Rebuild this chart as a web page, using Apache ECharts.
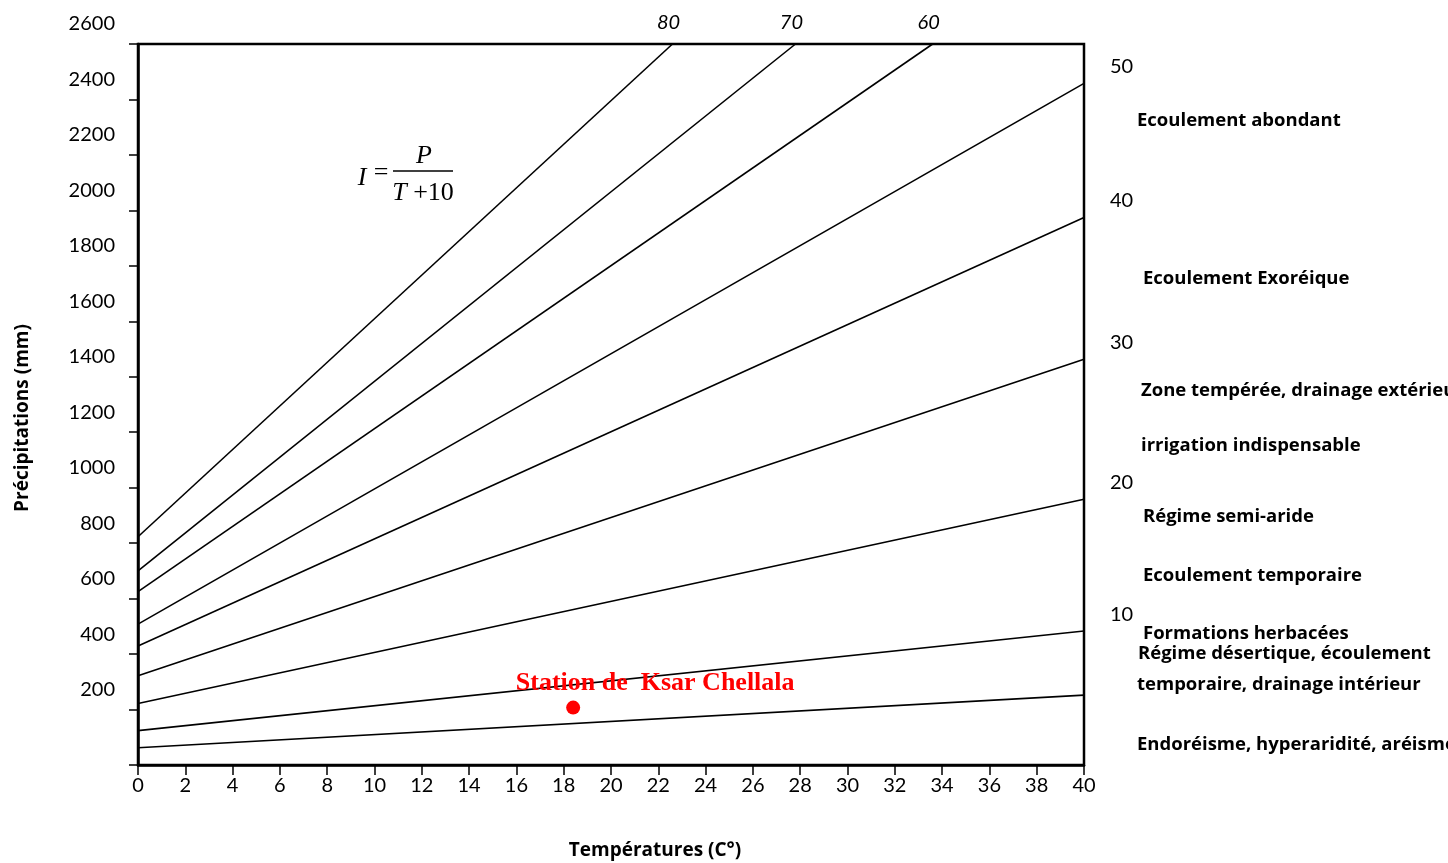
<!DOCTYPE html>
<html>
<head>
<meta charset="utf-8">
<script src="https://cdn.jsdelivr.net/npm/echarts@6/dist/echarts.min.js"></script>
<style>
html,body{margin:0;padding:0;background:#fff;}
#chart{width:1448px;height:863px;}
</style>
</head>
<body>
<div id="chart"></div>
<script>
// Index lines I = P/(T+10): start at T=0, end point (T, P)
const indexNames = ['80', '70', '60', '50', '40', '30', '20', '10', '5'];
const startP     = [823, 700, 625, 508, 429, 322, 222, 124, 62];
const endT       = [22.6, 27.8, 33.6, 40, 40, 40, 40, 40, 40];
const endP       = [2600, 2600, 2600, 2458, 1974, 1463, 958, 483, 252];
const topLabelled   = ['80', '70', '60'];
const rightLabelled = ['50', '40', '30', '20', '10'];

// Station
const stationName = 'Station de  Ksar Chellala';
const stationT = 18.4;
const stationP = 207;

// Axes
const xTicks = {min: 0, max: 40, step: 2};
const yTicks = {min: 0, max: 2600, step: 200};

// Zone descriptions (right side)
const zoneTexts = [
  'Ecoulement abondant',
  'Ecoulement Exoréique',
  'Zone tempérée, drainage extérieur',
  'irrigation indispensable',
  'Régime semi-aride',
  'Ecoulement temporaire',
  'Formations herbacées',
  'Régime désertique, écoulement',
  'temporaire, drainage intérieur',
  'Endoréisme, hyperaridité, aréisme'
];
const zoneX = [1137, 1143, 1141, 1141, 1143, 1143, 1143, 1138, 1137, 1137];
const zoneY = [124, 282, 394, 449, 520, 579, 637, 657, 688, 748];

const FONT = 'Lato';
const BOLD = 'Open Sans';
const SERIF = 'Liberation Serif';

const series = indexNames.map((name, i) => {
  let endLabel = {show: false};
  if (topLabelled.includes(name)) {
    endLabel = {show: true, position: 'top', distance: 11, offset: [-4, 0],
      formatter: name, fontFamily: FONT, fontStyle: 'italic', fontSize: 20, color: '#000'};
  } else if (rightLabelled.includes(name)) {
    endLabel = {show: true, position: 'right', distance: 26, offset: [0, -17],
      formatter: name, fontFamily: FONT, fontSize: 20, color: '#000'};
  }
  return {
    type: 'line',
    name: 'I = ' + name,
    data: [
      {value: [0, startP[i]], label: {show: false}},
      {value: [endT[i], endP[i]], label: endLabel}
    ],
    showSymbol: true,
    symbol: 'circle',
    symbolSize: 0,
    lineStyle: {color: '#000', width: 1.6},
    itemStyle: {color: '#000'},
    emphasis: {disabled: true},
    silent: true,
    z: 3
  };
});

series.push({
  type: 'scatter',
  name: stationName,
  data: [[stationT, stationP]],
  symbol: 'circle',
  symbolSize: 14,
  itemStyle: {color: '#ff0000', opacity: 1},
  label: {
    show: true, position: 'top', distance: 4, offset: [82, 0],
    formatter: stationName,
    fontFamily: SERIF, fontWeight: 'bold', fontSize: 26, color: '#ff0000', opacity: 1
  },
  emphasis: {disabled: true},
  silent: true,
  z: 5
});

const graphics = zoneTexts.map((t, i) => ({
  type: 'text',
  left: zoneX[i],
  top: zoneY[i] - 13,
  style: {text: t, fontFamily: BOLD, fontWeight: 'bold', fontSize: 18.5, fill: '#000'}
}));

// Formula I = P / (T + 10)
graphics.push(
  {type: 'text', x: 362, y: 178, style: {text: 'I', fontFamily: SERIF, fontStyle: 'italic', fontSize: 26, fill: '#000', align: 'center', verticalAlign: 'middle'}},
  {type: 'text', x: 381, y: 173, style: {text: '=', fontFamily: SERIF, fontSize: 26, fill: '#000', align: 'center', verticalAlign: 'middle'}},
  {type: 'line', shape: {x1: 393, y1: 171, x2: 453, y2: 171}, style: {stroke: '#000', lineWidth: 1.3}},
  {type: 'text', x: 424, y: 156, style: {text: 'P', fontFamily: SERIF, fontStyle: 'italic', fontSize: 26, fill: '#000', align: 'center', verticalAlign: 'middle'}},
  {type: 'text', x: 423, y: 193, style: {
    text: '{t|T} +10', align: 'center', verticalAlign: 'middle',
    fontFamily: SERIF, fontSize: 26, fill: '#000',
    rich: {t: {fontFamily: SERIF, fontStyle: 'italic', fontSize: 26, fill: '#000'}}
  }}
);

const chart = echarts.init(document.getElementById('chart'), null, {renderer: 'canvas'});
chart.setOption({
  animation: false,
  backgroundColor: '#fff',
  grid: {left: 138, right: 364, top: 44, bottom: 98, show: true, borderColor: '#000', borderWidth: 2.5,
         containLabel: false, outerBoundsMode: 'none'},
  xAxis: {
    type: 'value', min: xTicks.min, max: xTicks.max, interval: xTicks.step,
    name: 'Températures (C°)', nameLocation: 'middle', nameGap: 76,
    nameTextStyle: {fontFamily: BOLD, fontWeight: 'bold', fontSize: 19, color: '#000', padding: [0, 0, 0, 88]},
    axisLine: {show: true, lineStyle: {color: '#000', width: 2.5}},
    axisTick: {show: true, length: 10, lineStyle: {color: '#000', width: 1.5}},
    axisLabel: {margin: 11, fontFamily: FONT, fontSize: 20, color: '#000'},
    splitLine: {show: false}
  },
  yAxis: {
    type: 'value', min: yTicks.min, max: yTicks.max, interval: yTicks.step,
    name: 'Précipitations (mm)', nameLocation: 'middle', nameGap: 106,
    nameTextStyle: {fontFamily: BOLD, fontWeight: 'bold', fontSize: 19, color: '#000', padding: [0, 27, 0, 0]},
    axisLine: {show: true, lineStyle: {color: '#000', width: 2.5}},
    axisTick: {show: true, length: 9, lineStyle: {color: '#000', width: 1.5}},
    axisLabel: {
      margin: 23, fontFamily: FONT, fontSize: 20, color: '#000',
      verticalAlign: 'bottom', padding: [0, 0, 10, 0],
      formatter: v => (v === 0 ? '' : String(v))
    },
    splitLine: {show: false}
  },
  series: series,
  graphic: graphics
});
</script>
</body>
</html>
